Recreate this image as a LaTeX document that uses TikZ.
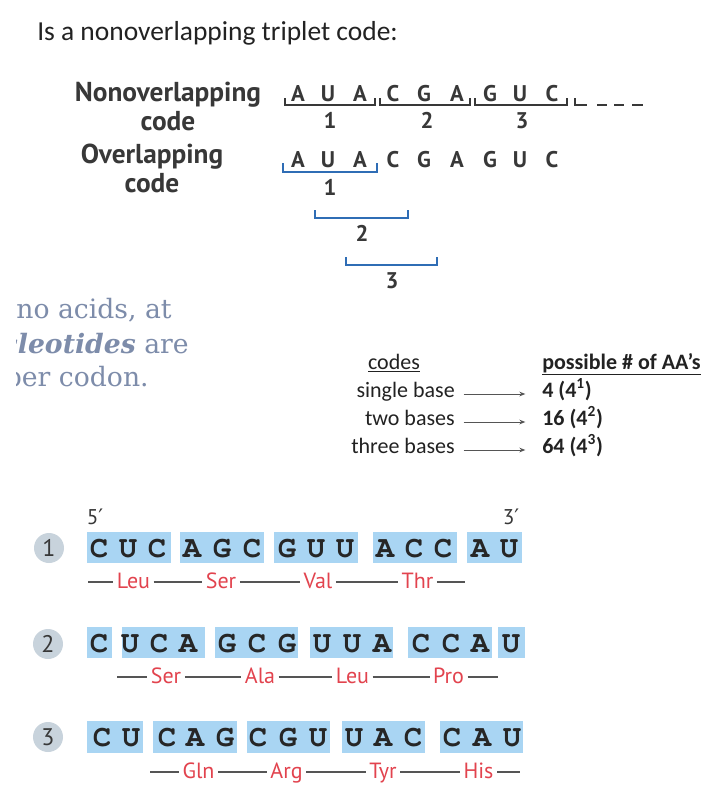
\documentclass[tikz,border=0pt]{standalone}
\usepackage[T1]{fontenc}
\usepackage{fontspec}
\setmainfont{Carlito}
\newfontfamily\ptsans{PT Sans}
\newfontfamily\dserif{DejaVu Serif}
\newfontfamily\dvsans{DejaVu Sans}
\newcommand\monob{\fontencoding{T1}\fontfamily{pcr}\fontseries{b}\selectfont}
\usetikzlibrary{arrows.meta}
\definecolor{titlegray}{HTML}{222222}
\definecolor{dkgray}{HTML}{383838}
\definecolor{brblue}{HTML}{2F6DB5}
\definecolor{fadeblue}{HTML}{7D8CAA}
\definecolor{boxblue}{HTML}{A9D5F3}
\definecolor{circgray}{HTML}{C8D3DC}
\definecolor{aared}{HTML}{E2434E}
\definecolor{linegray}{HTML}{555555}
\tikzset{
  lab/.style={inner sep=0pt, anchor=base, text=dkgray, font=\ptsans\bfseries\fontsize{20.5}{24}\selectfont},
  seq/.style={inner sep=0pt, anchor=base, text=dkgray, font=\ptsans\bfseries\fontsize{17}{20}\selectfont},
  nbr/.style={draw=dkgray, line width=1.8pt},
  bbr/.style={draw=brblue, line width=1.8pt},
  tab/.style={inner sep=1.5pt, text=titlegray, font=\fontsize{16.5}{19}\selectfont},
  arr/.style={draw=linegray, line width=0.7pt, -{Stealth[length=4.5pt,width=3.5pt]}},
  mono/.style={inner sep=0pt, text=black!85, font=\monob\fontsize{23}{25}\selectfont, text height=13pt, text depth=0pt},
  circ/.style={circle, fill=circgray, minimum size=22.5pt, inner sep=0pt, text=dkgray, font=\ptsans\fontsize{18}{20}\selectfont},
  aa/.style={inner sep=2.5pt, text=aared, font=\ptsans\fontsize{16.5}{19}\selectfont, text height=12pt, text depth=2pt},
  aaline/.style={draw=linegray, line width=1.1pt},
  frag/.style={inner sep=0pt, anchor=base east, text=fadeblue, font=\dserif\fontsize{20}{23}\selectfont},
  prime/.style={inner sep=0pt, anchor=base, text=dkgray, font=\ptsans\fontsize{16}{18}\selectfont}
}
\begin{document}
\begin{tikzpicture}[x=0.75pt,y=-0.75pt]
\useasboundingbox[fill=white] (0,0) rectangle (712,800);

% title
\node[inner sep=0pt, anchor=base west, text=titlegray, font=\fontsize{20.6}{24}\selectfont] (title) at (37,40) {Is a nonoverlapping triplet code:};

% ---------- nonoverlapping code ----------
\node[lab] (nonlab) at (168,101) {Nonoverlapping};
\node[lab] (noncode) at (168,130) {code};
\foreach \x/\l [count=\i] in {298/A,328/U,360/A,393/C,424/G,457/A,490/G,520/U,552/C}
  \node[seq] (n\i) at (\x,101) {\l};
\draw[nbr] (285,98) -- (285,105) -- (375,105) -- (375,98);
\draw[nbr] (380,98) -- (380,105) -- (470,105) -- (470,98);
\draw[nbr] (475,98) -- (475,105) -- (567,105) -- (567,98);
\draw[nbr] (575,98) -- (575,105) -- (587,105);
\draw[nbr] (597,105) -- (607,105);
\draw[nbr] (614,105) -- (624,105);
\draw[nbr] (632,105) -- (643,105);
\node[seq] (nn1) at (330,128) {1};
\node[seq] (nn2) at (427,128) {2};
\node[seq] (nn3) at (522,128) {3};

% ---------- overlapping code ----------
\node[lab] (ovlab) at (152,163) {Overlapping};
\node[lab] (ovcode) at (152,192) {code};
\foreach \x/\l [count=\i] in {298/A,328/U,360/A,393/C,424/G,457/A,490/G,520/U,552/C}
  \node[seq] (o\i) at (\x,167) {\l};
\draw[bbr] (283,163) -- (283,172) -- (377,172) -- (377,163);
\draw[bbr] (315,210) -- (315,218) -- (408,218) -- (408,210);
\draw[bbr] (346,257) -- (346,265) -- (437,265) -- (437,257);
\node[seq] (on1) at (330,195) {1};
\node[seq] (on2) at (362,241) {2};
\node[seq] (on3) at (392,288) {3};

% ---------- clipped fragment of a text ----------
\begin{scope}
\clip (16,290) rectangle (260,400);
\node[frag] (f1) at (172,318) {no acids, at};
\node[frag] (f2) at (189,353) {{\bfseries\itshape cleotides} are};
\node[frag] (f3) at (149,386) {per codon.};
\end{scope}

% ---------- table ----------
\node[tab, anchor=mid] (codes) at (394,366) {\underline{codes}};
\node[tab, anchor=mid west] (poss) at (540,366) {\bfseries\underline{possible \# of AA’s}};
\node[tab, anchor=mid east] (c1) at (457,394) {single base};
\node[tab, anchor=mid east] (c2) at (457,422) {two bases};
\node[tab, anchor=mid east] (c3) at (457,450) {three bases};
\node[tab, anchor=mid west, font=\bfseries\fontsize{16.5}{19}\selectfont] (v1) at (540,394) {4 (4\textsuperscript{1})};
\node[tab, anchor=mid west, font=\bfseries\fontsize{16.5}{19}\selectfont] (v2) at (540,422) {16 (4\textsuperscript{2})};
\node[tab, anchor=mid west, font=\bfseries\fontsize{16.5}{19}\selectfont] (v3) at (540,450) {64 (4\textsuperscript{3})};
\draw[arr, shorten <=5pt, shorten >=11pt] (c1.mid east) -- (c1.mid east -| v1.west);
\draw[arr, shorten <=5pt, shorten >=11pt] (c2.mid east) -- (c2.mid east -| v2.west);
\draw[arr, shorten <=5pt, shorten >=11pt] (c3.mid east) -- (c3.mid east -| v3.west);

% ---------- reading frames ----------
% row 1
\fill[boxblue] (87,532) rectangle (171,563);
\fill[boxblue] (180,532) rectangle (264,563);
\fill[boxblue] (274,532) rectangle (358,563);
\fill[boxblue] (373,532) rectangle (457,563);
\fill[boxblue] (467,532) rectangle (522,563);
\node[circ] (k1) at (49,548) {1};
\node[prime] (p5) at (95,524) {5{\dvsans ′}};
\node[prime] (p3) at (511,524) {3{\dvsans ′}};
\foreach \x/\l [count=\i] in {99/C,128/U,157/C,192/A,222/G,252/C,287/G,316/U,345/U,385/A,414/C,443/C,480/A,509/U}
  \node[mono] (r1l\i) at (\x,549) {\l};
\coordinate (s1) at (88,582);
\node[aa] (a11) at (133.5,582) {Leu};
\node[aa] (a12) at (221,582) {Ser};
\node[aa] (a13) at (318,582) {Val};
\node[aa] (a14) at (417.5,582) {Thr};
\coordinate (e1) at (465,582);
\draw[aaline] (s1) -- (a11) -- (a12) -- (a13) -- (a14) -- (e1);

% row 2
\fill[boxblue] (87,627) rectangle (112,658);
\fill[boxblue] (122,627) rectangle (205,658);
\fill[boxblue] (215,627) rectangle (298,658);
\fill[boxblue] (310,627) rectangle (393,658);
\fill[boxblue] (408,627) rectangle (492,658);
\fill[boxblue] (498,627) rectangle (525,658);
\node[circ] (k2) at (48,644) {2};
\foreach \x/\l [count=\i] in {99/C,130/U,159/C,188/A,227/G,257/C,287/G,322/U,352/U,382/A,421/C,451/C,480/A,511/U}
  \node[mono] (r2l\i) at (\x,644) {\l};
\coordinate (s2) at (117,677);
\node[aa] (a21) at (166,677) {Ser};
\node[aa] (a22) at (260,677) {Ala};
\node[aa] (a23) at (352.5,677) {Leu};
\node[aa] (a24) at (448.5,677) {Pro};
\coordinate (e2) at (498,677);
\draw[aaline] (s2) -- (a21) -- (a22) -- (a23) -- (a24) -- (e2);

% row 3
\fill[boxblue] (87,721) rectangle (143,753);
\fill[boxblue] (153,721) rectangle (237,753);
\fill[boxblue] (247,721) rectangle (330,753);
\fill[boxblue] (342,721) rectangle (425,753);
\fill[boxblue] (440,721) rectangle (523,753);
\node[circ] (k3) at (48,737) {3};
\foreach \x/\l [count=\i] in {102/C,131/U,167/C,195/A,225/G,258/C,288/G,318/U,354/U,383/A,413/C,452/C,482/A,512/U}
  \node[mono] (r3l\i) at (\x,738) {\l};
\coordinate (s3) at (150,772);
\node[aa] (a31) at (198.5,772) {Gln};
\node[aa] (a32) at (286.5,772) {Arg};
\node[aa] (a33) at (383,772) {Tyr};
\node[aa] (a34) at (478.5,772) {His};
\coordinate (e3) at (520,772);
\draw[aaline] (s3) -- (a31) -- (a32) -- (a33) -- (a34) -- (e3);
\end{tikzpicture}
\end{document}
